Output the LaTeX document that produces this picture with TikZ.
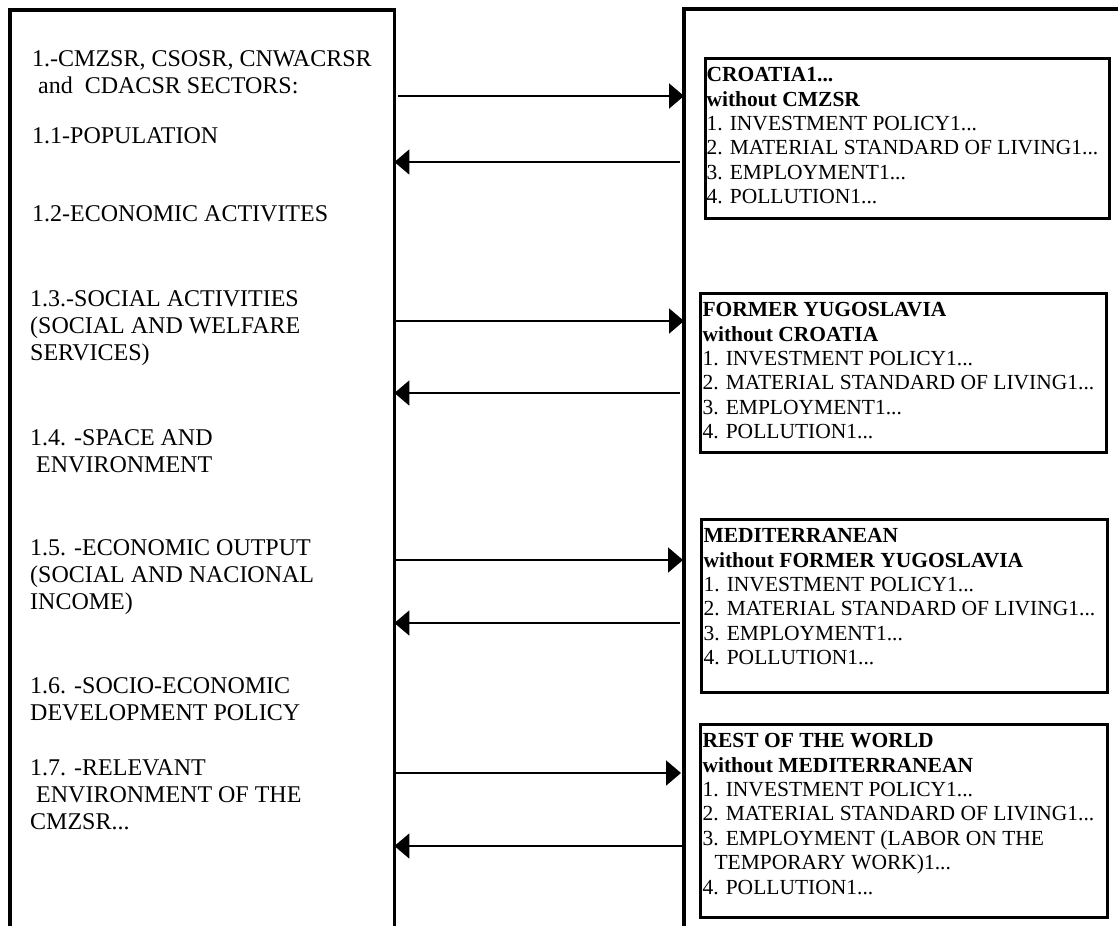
\documentclass[tikz,border=0pt]{standalone}
\usepackage{fontspec}
\setmainfont{Liberation Serif}
\usetikzlibrary{arrows.meta}

% a text block of fixed size, set from its top
\newcommand{\regiontext}[3]{\parbox[t][#1][t]{#2}{#3}}

\tikzset{
  panel/.style={line width=3.5pt},
  frame/.style={inner sep=0pt, anchor=north west},
  region/.style={draw, line width=3pt, anchor=north west, inner xsep=2pt,
    inner ysep=9pt, font=\fontsize{21.5}{24.4}\selectfont},
  sector/.style={anchor=north west, inner sep=0pt, align=left,
    font=\fontsize{24}{27}\selectfont},
  flow/.style={line width=2pt, -{Triangle[length=15pt,width=25pt]}},
}

\begin{document}
\begin{tikzpicture}[x=1pt, y=-1pt]
  \useasboundingbox (0,0) rectangle (1118,926);

  % the two open panels
  \node[frame, minimum width=384pt, minimum height=916pt] (sectors) at (10,10) {};
  \node[frame, minimum width=434pt, minimum height=917pt] (regions) at (684,9) {};
  \draw[panel] (sectors.south west) -- (sectors.north west)
    -- (sectors.north east) -- (sectors.south east);
  \draw[panel] (regions.south west) -- (regions.north west) -- (regions.north east);

  % sectors listed in the left panel
  \node[sector] (s1) at (32,50) {1.-CMZSR, CSOSR, CNWACRSR\\\hspace*{6pt}and\ \ CDACSR SECTORS:};
  \node[sector] (s11) at (32,127) {1.1-POPULATION};
  \node[sector] (s12) at (32,205) {1.2-ECONOMIC ACTIVITES};
  \node[sector] (s13) at (30,290) {1.3.-SOCIAL ACTIVITIES\\(SOCIAL AND WELFARE\\SERVICES)};
  \node[sector] (s14) at (30,429) {1.4. -SPACE AND\\\hspace*{6pt}ENVIRONMENT};
  \node[sector] (s15) at (30,539) {1.5. -ECONOMIC OUTPUT\\(SOCIAL AND NACIONAL\\INCOME)};
  \node[sector] (s16) at (30,677) {1.6. -SOCIO-ECONOMIC\\DEVELOPMENT POLICY};
  \node[sector] (s17) at (30,759) {1.7. -RELEVANT\\\hspace*{6pt}ENVIRONMENT OF THE\\CMZSR...};

  % regions in the right panel
  \node[region, inner xsep=1pt] (croatia) at (704,57) {\regiontext{142pt}{402pt}{%
    \textbf{CROATIA1...}\\
    \textbf{without CMZSR}\\
    1. INVESTMENT POLICY1...\\
    2. MATERIAL STANDARD OF LIVING1...\\
    3. EMPLOYMENT1...\\
    4. POLLUTION1...}};
  \node[region] (yugoslavia) at (699,292) {\regiontext{141pt}{402pt}{%
    \textbf{FORMER YUGOSLAVIA}\\
    \textbf{without CROATIA}\\
    1. INVESTMENT POLICY1...\\
    2. MATERIAL STANDARD OF LIVING1...\\
    3. EMPLOYMENT1...\\
    4. POLLUTION1...}};
  \node[region] (mediterranean) at (700,518) {\regiontext{155pt}{402pt}{%
    \textbf{MEDITERRANEAN}\\
    \textbf{without FORMER YUGOSLAVIA}\\
    1. INVESTMENT POLICY1...\\
    2. MATERIAL STANDARD OF LIVING1...\\
    3. EMPLOYMENT1...\\
    4. POLLUTION1...}};
  \node[region] (world) at (699,723) {\regiontext{175pt}{403pt}{%
    \textbf{REST OF THE WORLD}\\
    \textbf{without MEDITERRANEAN}\\
    1. INVESTMENT POLICY1...\\
    2. MATERIAL STANDARD OF LIVING1...\\
    3. EMPLOYMENT (LABOR ON THE\\
    \hspace*{12pt}TEMPORARY WORK)1...\\
    4. POLLUTION1...}};

  % exchanges between the panels
  \draw[flow, shorten <=4pt] (sectors.east |- 0,96) -- (regions.west |- 0,96);
  \draw[flow, shorten <=4pt] (regions.west |- 0,162) -- (sectors.east |- 0,162);
  \draw[flow, shorten <=2pt] (sectors.east |- 0,321) -- (regions.west |- 0,321);
  \draw[flow, shorten <=4pt] (regions.west |- 0,393) -- (sectors.east |- 0,393);
  \draw[flow, shorten <=1pt, shorten >=1pt] (sectors.east |- 0,560) -- (regions.west |- 0,560);
  \draw[flow, shorten <=4pt] (regions.west |- 0,623) -- (sectors.east |- 0,623);
  \draw[flow, shorten <=1pt, shorten >=3pt] (sectors.east |- 0,773) -- (regions.west |- 0,773);
  \draw[flow, shorten <=2pt] (regions.west |- 0,846) -- (sectors.east |- 0,846);
\end{tikzpicture}
\end{document}
